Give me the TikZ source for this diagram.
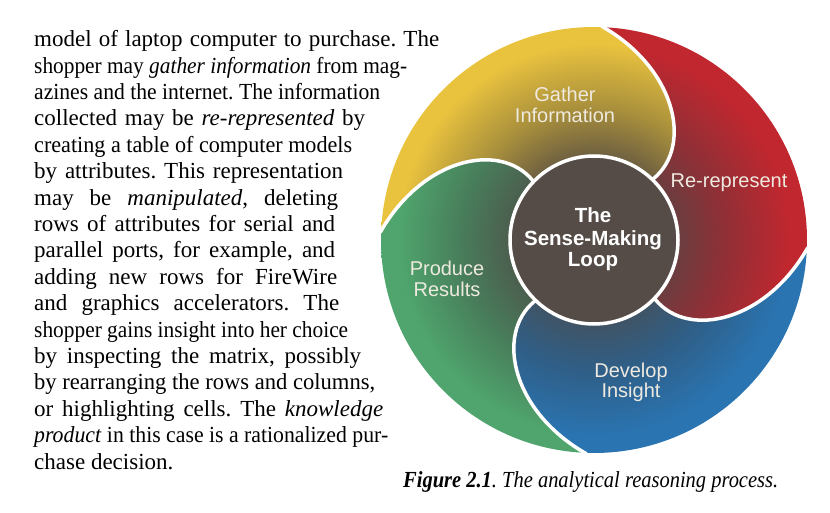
\documentclass[tikz,border=0pt]{standalone}
\usepackage{fontspec}
\setmainfont{Liberation Serif}
\newfontfamily\lsans{Liberation Sans}
\usepackage{graphicx}
\frenchspacing
\definecolor{ybright}{HTML}{E9C23E}
\definecolor{ymid}{HTML}{A88F3C}
\definecolor{ydark}{HTML}{5B5042}
\definecolor{rbright}{HTML}{C1272F}
\definecolor{rmid}{HTML}{912F36}
\definecolor{rdark}{HTML}{5E4242}
\definecolor{bbright}{HTML}{2A74B1}
\definecolor{bmid}{HTML}{2F5F88}
\definecolor{bdark}{HTML}{45505A}
\definecolor{gbright}{HTML}{4FA56D}
\definecolor{gmid}{HTML}{487C5A}
\definecolor{gdark}{HTML}{4D544B}
\definecolor{ctrfill}{HTML}{554C48}
\definecolor{lblcol}{HTML}{EEEAE0}
\pgfdeclareradialshading{yshade}{\pgfpoint{0bp}{0bp}}{color(0bp)=(ydark); color(8bp)=(ydark); color(15.5bp)=(ymid); color(23bp)=(ybright); color(50bp)=(ybright)}
\pgfdeclareradialshading{rshade}{\pgfpoint{0bp}{0bp}}{color(0bp)=(rdark); color(8bp)=(rdark); color(15.5bp)=(rmid); color(23bp)=(rbright); color(50bp)=(rbright)}
\pgfdeclareradialshading{bshade}{\pgfpoint{0bp}{0bp}}{color(0bp)=(bdark); color(8bp)=(bdark); color(15.5bp)=(bmid); color(23bp)=(bbright); color(50bp)=(bbright)}
\pgfdeclareradialshading{gshade}{\pgfpoint{0bp}{0bp}}{color(0bp)=(gdark); color(8bp)=(gdark); color(15.5bp)=(gmid); color(23bp)=(gbright); color(50bp)=(gbright)}
\newsavebox\lnbox
\newcommand\fitline[2]{%
  \sbox\lnbox{#2}%
  \ifdim\wd\lnbox>#1pt
    \dimen0=\wd\lnbox
    \pgfmathsetmacro\lnfac{#1/\the\dimen0}%
    \scalebox{\lnfac}[1]{\usebox\lnbox}%
  \else
    \makebox[#1pt][s]{#2}%
  \fi}
\tikzset{
  petalpath/.style={insert path={(46.5:85) .. controls (100,88) and (85,170) .. (88:213)
      arc[start angle=88, end angle=178, radius=213]
      .. controls (-170,85) and (-88,100) .. (136.5:85)
      arc[start angle=136.5, end angle=46.5, radius=85] -- cycle}},
  gapline/.style={draw=white, line width=3.5pt},
  lbl/.style={font=\lsans\fontsize{20}{21}\selectfont, text=lblcol, anchor=base, inner sep=0},
  ctrtxt/.style={font=\lsans\bfseries\fontsize{20.5}{22}\selectfont, text=white, anchor=base, inner sep=0},
  bodyline/.style={font=\fontsize{23}{26}\selectfont, anchor=base west, inner sep=0, text=black},
}
\begin{document}
\begin{tikzpicture}[x=1pt,y=1pt]
\useasboundingbox (0,0) rectangle (830,512);
% ---- body text
\node[bodyline] (l1) at (34,465.3) {\fitline{405}{model of laptop computer to purchase. The}};
\node[bodyline] (l2) at (34,438.9) {\fitline{373}{shopper may \textit{gather information} from mag-}};
\node[bodyline] (l3) at (34,412.5) {\fitline{346}{azines and the internet. The information}};
\node[bodyline] (l4) at (34,386.1) {\fitline{331}{collected may be \textit{re-represented} by}};
\node[bodyline] (l5) at (34,359.7) {\fitline{318}{creating a table of computer models}};
\node[bodyline] (l6) at (34,333.3) {\fitline{309}{by attributes. This representation}};
\node[bodyline] (l7) at (34,306.9) {\fitline{304}{may be \textit{manipulated}, deleting}};
\node[bodyline] (l8) at (34,280.5) {\fitline{301}{rows of attributes for serial and}};
\node[bodyline] (l9) at (34,254.1) {\fitline{301}{parallel ports, for example, and}};
\node[bodyline] (l10) at (34,227.7) {\fitline{303}{adding new rows for FireWire}};
\node[bodyline] (l11) at (34,201.3) {\fitline{305}{and graphics accelerators. The}};
\node[bodyline] (l12) at (34,174.9) {\fitline{314}{shopper gains insight into her choice}};
\node[bodyline] (l13) at (34,148.5) {\fitline{327}{by inspecting the matrix, possibly}};
\node[bodyline] (l14) at (34,122.1) {\fitline{341}{by rearranging the rows and columns,}};
\node[bodyline] (l15) at (34,95.7) {\fitline{349}{or highlighting cells. The \textit{knowledge}}};
\node[bodyline] (l16) at (34,69.3) {\fitline{354}{\textit{product} in this case is a rationalized pur-}};
\node[bodyline] (l17) at (34,42.9) {chase decision.};
% ---- caption
\node[bodyline] (cap) at (403,25) {\fitline{375}{\textbf{\textit{Figure 2.1}}\textit{. The analytical reasoning process.}}};
% ---- diagram
\begin{scope}[shift={(594,272)}]
  \begin{scope}
    \clip[petalpath];
    \shade[shading=yshade] (0,0) circle (213);
  \end{scope}
  \begin{scope}[rotate=-90]
    \clip[petalpath];
    \shade[shading=rshade] (0,0) circle (213);
  \end{scope}
  \begin{scope}[rotate=-180]
    \clip[petalpath];
    \shade[shading=bshade] (0,0) circle (213);
  \end{scope}
  \begin{scope}[rotate=90]
    \clip[petalpath];
    \shade[shading=gshade] (0,0) circle (213);
  \end{scope}
  \foreach \a in {0,-90,-180,90}{
    \draw[gapline, rotate=\a] (46.5:80) .. controls (100,88) and (85,170) .. (88:214);
  }
\end{scope}
\node[circle, draw=white, line width=3.5pt, fill=ctrfill, minimum size=168pt, inner sep=0] (loop) at (594,272) {};
% ---- labels
\node[lbl] (gather1) at (565,410.3) {Gather};
\node[lbl] (gather2) at (565,389) {Information};
\node[lbl] (rerep) at (729,324) {Re-represent};
\node[lbl] (prod1) at (447,236) {Produce};
\node[lbl] (prod2) at (447,215) {Results};
\node[lbl] (dev1) at (631,135) {Develop};
\node[lbl] (dev2) at (631,115) {Insight};
\node[ctrtxt] (c1) at (593,289) {The};
\node[ctrtxt] (c2) at (593,266) {Sense-Making};
\node[ctrtxt] (c3) at (593,245) {Loop};
\end{tikzpicture}
\end{document}
